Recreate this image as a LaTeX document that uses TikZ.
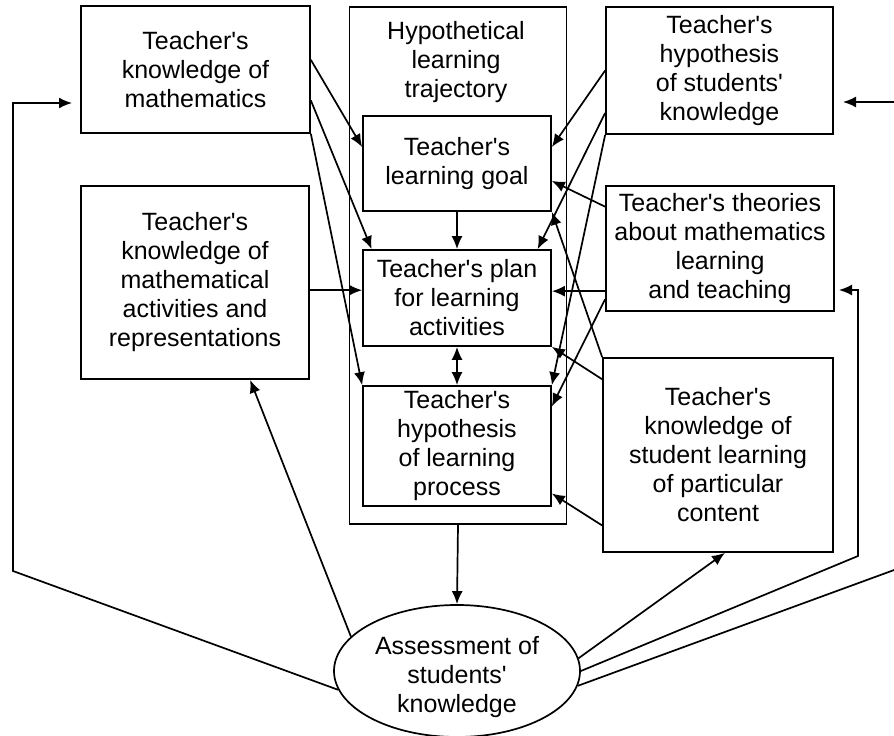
\documentclass[tikz,border=0pt]{standalone}
\usepackage{fontspec}
\setmainfont{Liberation Sans}[Ligatures=TeXOff]
\usetikzlibrary{arrows.meta,shapes.geometric,calc}

\begin{document}
\begin{tikzpicture}[x=1pt, y=-1pt, line width=1.7pt,
    font=\fontsize{25}{29}\selectfont,
    box/.style={draw, rectangle, align=center, inner sep=0pt},
    arr/.style={draw, -{Latex[length=13pt,width=11pt]}},
    darr/.style={draw, {Latex[length=13pt,width=11pt]}-{Latex[length=13pt,width=11pt]}}]
      \useasboundingbox (0,0) rectangle (894,736);
      \clip (0,0) rectangle (894,736);
      %nodes
      \node[box, minimum width=229, minimum height=127] (km) at (195.5,69.5) {Teacher's\\knowledge of\\mathematics};
      \node[box, minimum width=228, minimum height=193] (ka) at (195,282.5) {Teacher's\\knowledge of\\mathematical\\activities and\\representations};
      \node[box, minimum width=217, minimum height=517] (hlt) at (458,265.5) {};
      \node[align=center] (hlttxt) at (456,62) {Hypothetical\\learning\\trajectory};
      \node[box, minimum width=188, minimum height=95] (goal) at (457,163.5) {Teacher's\\learning goal};
      \node[box, minimum width=188, minimum height=96] (plan) at (457,298) {Teacher's plan\\for learning\\activities};
      \node[box, minimum width=188, minimum height=120] (proc) at (457,446) {Teacher's\\hypothesis\\of learning\\process};
      \node[box, minimum width=227, minimum height=127] (hs) at (719.5,70.5) {Teacher's\\hypothesis\\of students'\\knowledge};
      \node[box, minimum width=228, minimum height=125] (th) at (720,248.5) {Teacher's theories\\about mathematics\\learning\\and teaching};
      \node[box, minimum width=230, minimum height=194] (sl) at (718,455) {Teacher's\\knowledge of\\student learning\\of particular\\content};
      \node[ellipse, draw, inner sep=0pt, minimum width=246, minimum height=132] (ell) at (457,671) {};
      \node[align=center] (elltxt) at (457,677) {Assessment of\\students'\\knowledge};
      \coordinate (lcorner) at (13,571);
      \coordinate (kmin) at (72,103);
      \coordinate (rcorner) at (858,556);
      \coordinate (thin) at (839,290);
      \coordinate (fcorner) at (905,566);
      \coordinate (hsin) at (843,102);
      \coordinate (p1) at ($(plan.north west)!.42!(plan.south west)$);
      \coordinate (p2) at ($(plan.north east)!.43!(plan.south east)$);
      %edges into the trajectory
      \path[arr] ($(km.north east)!.425!(km.south east)$) -- ($(goal.north west)!.33!(goal.south west)$);
      \path[arr] ($(km.north east)!.74!(km.south east)$) -- ($(plan.north west)!.05!(plan.north east)$);
      \path[arr] (km.south east) -- (proc.north west);
      \path[arr] (ka.east |- p1) -- (p1);
      \path[arr] ($(hs.north west)!.5!(hs.south west)$) -- ($(goal.north east)!.33!(goal.south east)$);
      \path[arr] ($(hs.north west)!.83!(hs.south west)$) -- ($(plan.north west)!.925!(plan.north east)$);
      \path[arr] (hs.south west) -- (proc.north east);
      \path[arr] ($(th.north west)!.17!(th.south west)$) -- ($(goal.north east)!.68!(goal.south east)$);
      \path[arr] (th.west |- p2) -- (p2);
      \path[arr] ($(th.north west)!.9!(th.south west)$) -- ($(proc.north east)!.175!(proc.south east)$);
      \path[arr] (sl.north west) -- (goal.south east);
      \path[arr] ($(sl.north west)!.113!(sl.south west)$) -- (plan.south east);
      \path[arr] ($(sl.north west)!.86!(sl.south west)$) -- ($(proc.north east)!.89!(proc.south east)$);
      \path[arr] (goal.south) -- (plan.north);
      \path[darr] (plan.south) -- (proc.north);
      %edges from the assessment
      \path[arr] (hlt.south) -- (ell.north);
      \path[arr] (ell.162) -- ($(ka.south west)!.74!(ka.south east)$);
      \path[arr] (ell.6) -- ($(sl.south west)!.53!(sl.south east)$);
      \path[arr] (ell.189) -- (lcorner) |- (kmin);
      \path[arr] (ell.east) -- (rcorner) |- (thin);
      \path[arr] (ell.-7) -- (fcorner) |- (hsin);
    \end{tikzpicture}
\end{document}
